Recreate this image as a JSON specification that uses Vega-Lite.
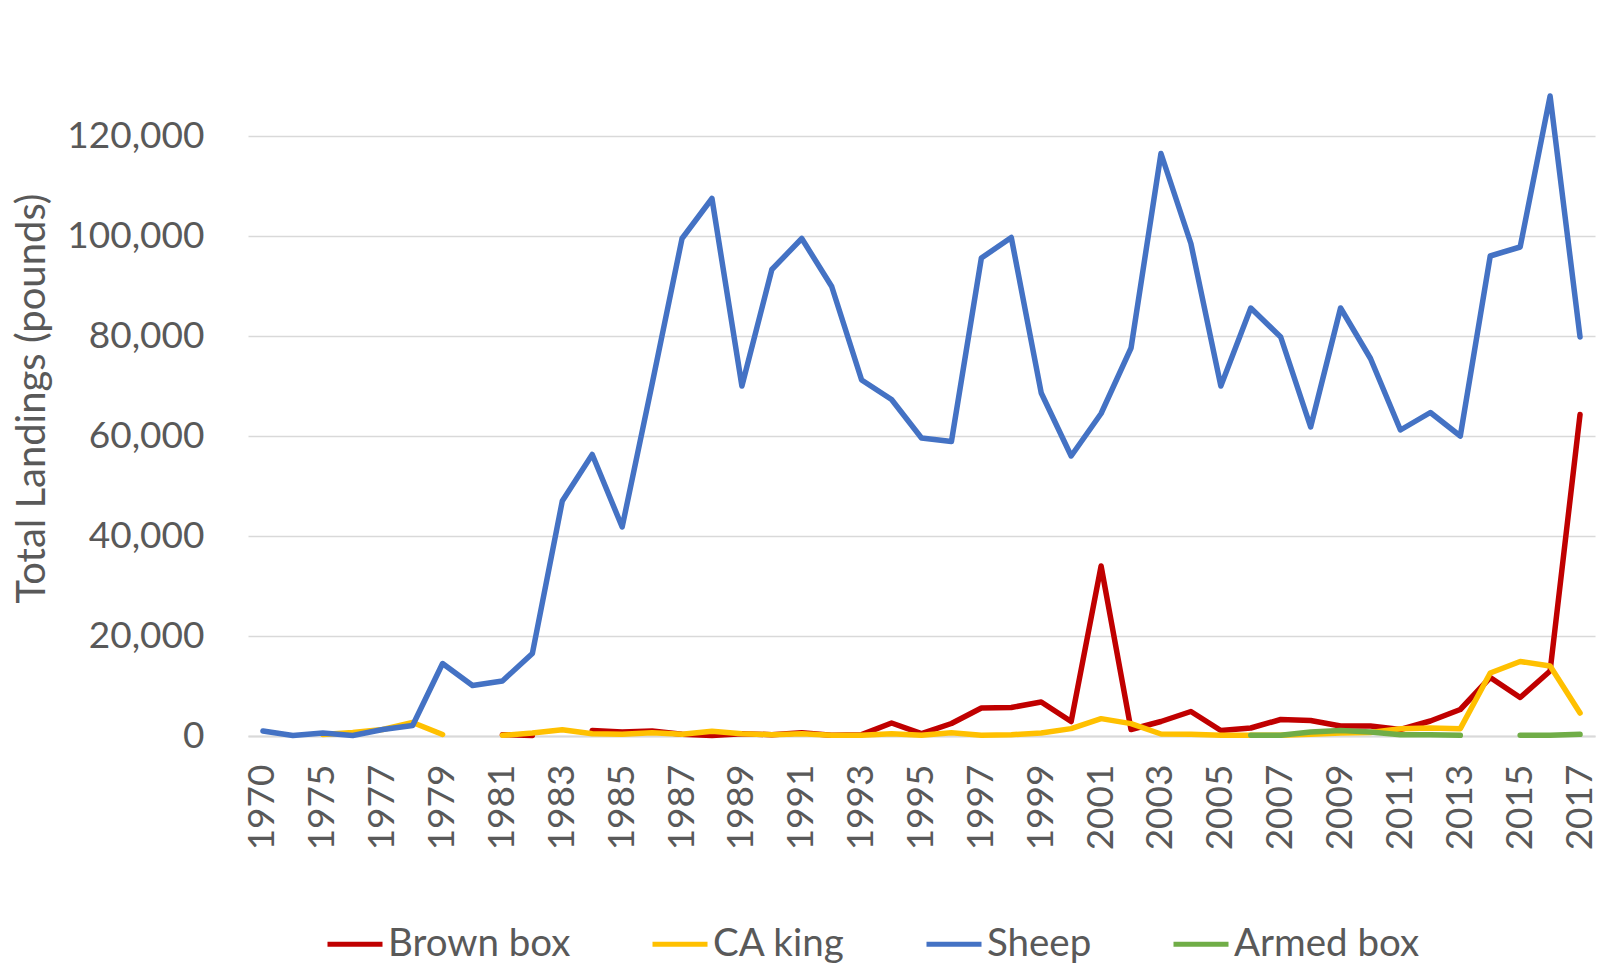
{
  "$schema": "https://vega.github.io/schema/vega-lite/v6.json",
  "width": 1347,
  "height": 700,
  "autosize": "none",
  "padding": {"left": 248, "top": 36, "right": 7, "bottom": 229},
  "background": "white",
  "config": {
    "view": {"stroke": null},
    "font": "Lato",
    "axis": {"labelColor": "#595959", "titleColor": "#595959", "labelFont": "Lato", "titleFont": "Lato"}
  },
  "data": {
    "values": [
      {"year": "1970", "Brown box": null, "CA king": null, "Sheep": 1000, "Armed box": null},
      {"year": "1974", "Brown box": null, "CA king": null, "Sheep": 100, "Armed box": null},
      {"year": "1975", "Brown box": null, "CA king": 300, "Sheep": 600, "Armed box": null},
      {"year": "1976", "Brown box": null, "CA king": 700, "Sheep": 100, "Armed box": null},
      {"year": "1977", "Brown box": null, "CA king": 1300, "Sheep": 1300, "Armed box": null},
      {"year": "1978", "Brown box": null, "CA king": 2700, "Sheep": 2100, "Armed box": null},
      {"year": "1979", "Brown box": null, "CA king": 300, "Sheep": 14500, "Armed box": null},
      {"year": "1980", "Brown box": null, "CA king": null, "Sheep": 10100, "Armed box": null},
      {"year": "1981", "Brown box": 270, "CA king": 130, "Sheep": 11000, "Armed box": null},
      {"year": "1982", "Brown box": 100, "CA king": 600, "Sheep": 16500, "Armed box": null},
      {"year": "1983", "Brown box": null, "CA king": 1270, "Sheep": 47000, "Armed box": null},
      {"year": "1984", "Brown box": 1100, "CA king": 470, "Sheep": 56300, "Armed box": null},
      {"year": "1985", "Brown box": 800, "CA king": 330, "Sheep": 41800, "Armed box": null},
      {"year": "1986", "Brown box": 1000, "CA king": 670, "Sheep": 70400, "Armed box": null},
      {"year": "1987", "Brown box": 330, "CA king": 330, "Sheep": 99500, "Armed box": null},
      {"year": "1988", "Brown box": 100, "CA king": 930, "Sheep": 107500, "Armed box": null},
      {"year": "1989", "Brown box": 470, "CA king": 470, "Sheep": 70000, "Armed box": null},
      {"year": "1990", "Brown box": 270, "CA king": 270, "Sheep": 93300, "Armed box": null},
      {"year": "1991", "Brown box": 670, "CA king": 470, "Sheep": 99500, "Armed box": null},
      {"year": "1992", "Brown box": 130, "CA king": 130, "Sheep": 89900, "Armed box": null},
      {"year": "1993", "Brown box": 270, "CA king": 130, "Sheep": 71200, "Armed box": null},
      {"year": "1994", "Brown box": 2600, "CA king": 470, "Sheep": 67300, "Armed box": null},
      {"year": "1995", "Brown box": 470, "CA king": 130, "Sheep": 59600, "Armed box": null},
      {"year": "1996", "Brown box": 2500, "CA king": 670, "Sheep": 58900, "Armed box": null},
      {"year": "1997", "Brown box": 5600, "CA king": 130, "Sheep": 95600, "Armed box": null},
      {"year": "1998", "Brown box": 5700, "CA king": 270, "Sheep": 99700, "Armed box": null},
      {"year": "1999", "Brown box": 6800, "CA king": 600, "Sheep": 68600, "Armed box": null},
      {"year": "2000", "Brown box": 2900, "CA king": 1470, "Sheep": 56000, "Armed box": null},
      {"year": "2001", "Brown box": 34000, "CA king": 3470, "Sheep": 64500, "Armed box": null},
      {"year": "2002", "Brown box": 1300, "CA king": 2470, "Sheep": 77600, "Armed box": null},
      {"year": "2003", "Brown box": 2900, "CA king": 400, "Sheep": 116500, "Armed box": null},
      {"year": "2004", "Brown box": 4900, "CA king": 350, "Sheep": 98500, "Armed box": null},
      {"year": "2005", "Brown box": 1100, "CA king": 130, "Sheep": 70000, "Armed box": null},
      {"year": "2006", "Brown box": 1600, "CA king": 130, "Sheep": 85600, "Armed box": 130},
      {"year": "2007", "Brown box": 3300, "CA king": 130, "Sheep": 79800, "Armed box": 130},
      {"year": "2008", "Brown box": 3100, "CA king": 330, "Sheep": 61800, "Armed box": 800},
      {"year": "2009", "Brown box": 2000, "CA king": 600, "Sheep": 85600, "Armed box": 1100},
      {"year": "2010", "Brown box": 2000, "CA king": 700, "Sheep": 75500, "Armed box": 800},
      {"year": "2011", "Brown box": 1300, "CA king": 1470, "Sheep": 61200, "Armed box": 270},
      {"year": "2012", "Brown box": 3000, "CA king": 1600, "Sheep": 64700, "Armed box": 270},
      {"year": "2013", "Brown box": 5300, "CA king": 1470, "Sheep": 60000, "Armed box": 130},
      {"year": "2014", "Brown box": 11700, "CA king": 12600, "Sheep": 96000, "Armed box": null},
      {"year": "2015", "Brown box": 7700, "CA king": 14900, "Sheep": 97800, "Armed box": 130},
      {"year": "2016", "Brown box": 13000, "CA king": 14000, "Sheep": 128000, "Armed box": 130},
      {"year": "2017", "Brown box": 64300, "CA king": 4600, "Sheep": 79800, "Armed box": 330}
    ]
  },
  "transform": [
    {"fold": ["Brown box", "CA king", "Sheep", "Armed box"], "as": ["species", "pounds"]}
  ],
  "mark": {"type": "line", "strokeWidth": 5.5, "strokeCap": "round", "strokeJoin": "round"},
  "encoding": {
    "x": {
      "field": "year",
      "type": "ordinal",
      "scale": {"type": "point", "padding": 0.5},
      "axis": {
        "title": null,
        "values": ["1970","1975","1977","1979","1981","1983","1985","1987","1989","1991","1993","1995","1997","1999","2001","2003","2005","2007","2009","2011","2013","2015","2017"],
        "labelAngle": -90,
        "labelFontSize": 37,
        "labelPadding": 28,
        "ticks": false,
        "grid": false,
        "domain": true,
        "domainColor": "#D9D9D9",
        "domainWidth": 2,
        "labelOverlap": false
      }
    },
    "y": {
      "field": "pounds",
      "type": "quantitative",
      "scale": {"domain": [0, 140000], "nice": false},
      "axis": {
        "title": "Total Landings (pounds)",
        "values": [0, 20000, 40000, 60000, 80000, 100000, 120000],
        "format": ",.0f",
        "labelFontSize": 37,
        "labelPadding": 44,
        "titleFontSize": 40,
        "titleFontWeight": "normal",
        "titlePadding": 14,
        "titleY": 362,
        "ticks": false,
        "domain": false,
        "grid": true,
        "gridColor": "#D9D9D9",
        "gridWidth": 1.5
      }
    },
    "color": {
      "field": "species",
      "type": "nominal",
      "scale": {
        "domain": ["Brown box", "CA king", "Sheep", "Armed box"],
        "range": ["#C00000", "#FFC000", "#4472C4", "#70AD47"]
      },
      "legend": {
        "title": null,
        "orient": "none",
        "direction": "horizontal",
        "legendX": 77,
        "legendY": 878,
        "symbolType": "stroke",
        "symbolSize": 3025,
        "symbolStrokeWidth": 5,
        "labelFontSize": 38.5,
        "labelFont": "Lato",
        "labelColor": "#595959",
        "labelOffset": 3,
        "labelLimit": 400,
        "columnPadding": 71
      }
    }
  }
}
